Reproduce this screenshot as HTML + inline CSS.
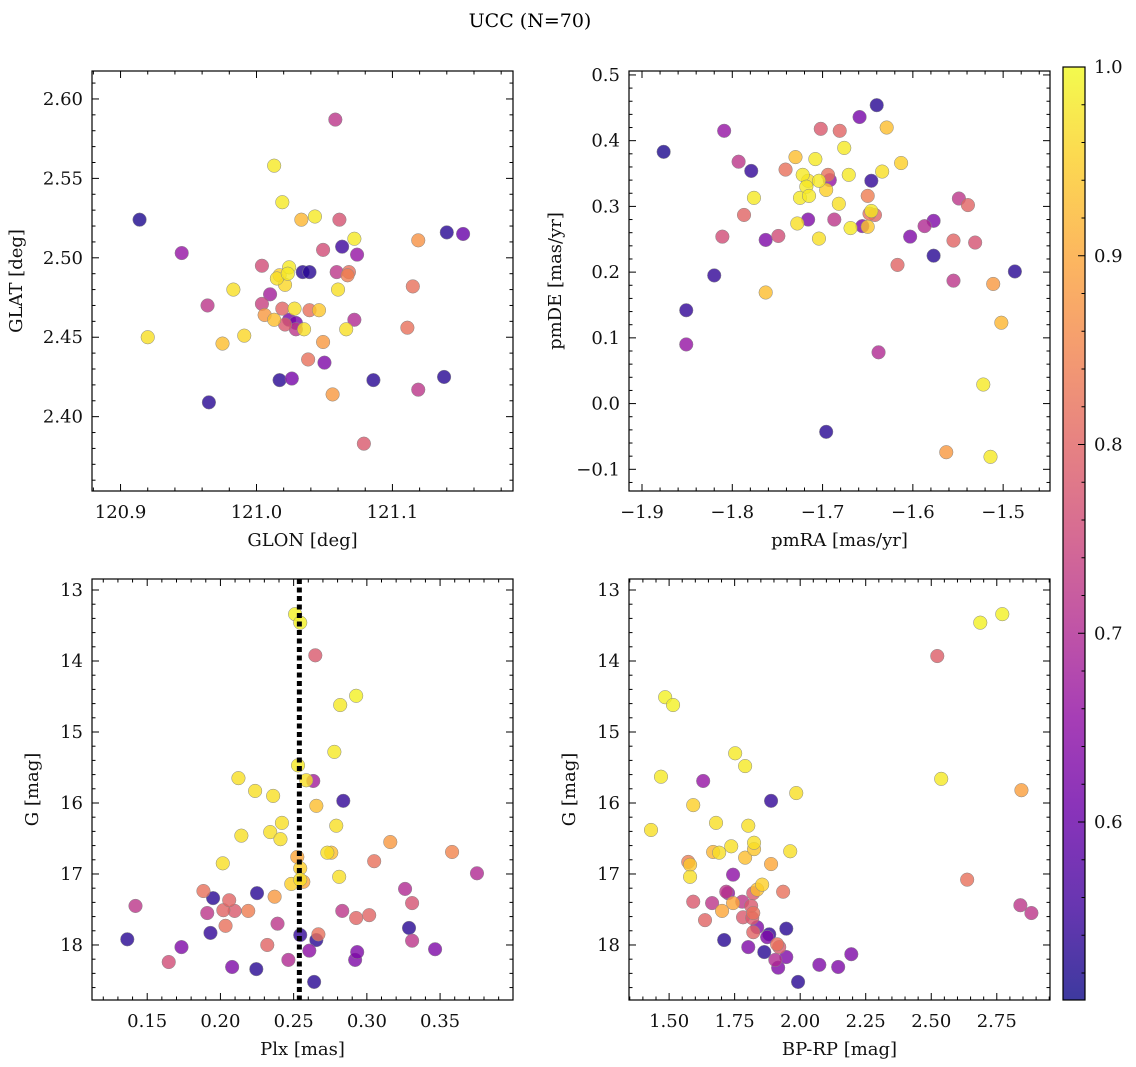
<!DOCTYPE html>
<html><head><meta charset="utf-8"><style>
body{margin:0;background:#fff}
svg{display:block;font-family:"DejaVu Serif","Liberation Serif",serif}
</style></head><body>
<svg id="fig" width="1136" height="1067" viewBox="0 0 1136 1067" xmlns="http://www.w3.org/2000/svg">
<defs>
<linearGradient id="cbgrad" x1="0" y1="1" x2="0" y2="0">
<stop offset="0" stop-color="#0d0887"/><stop offset="0.1" stop-color="#41049d"/><stop offset="0.2" stop-color="#6a00a8"/><stop offset="0.3" stop-color="#8f0da4"/><stop offset="0.4" stop-color="#b12a90"/><stop offset="0.5" stop-color="#cc4778"/><stop offset="0.6" stop-color="#e16462"/><stop offset="0.7" stop-color="#f2844b"/><stop offset="0.8" stop-color="#fca636"/><stop offset="0.9" stop-color="#fcce25"/><stop offset="1" stop-color="#f0f921"/>
</linearGradient>
</defs>
<text x="530" y="27" font-size="19" text-anchor="middle">UCC (N=70)</text>
</svg>
<script>
// ---- data: top-left (GLON/GLAT) ----
const glon=[120.914,120.945,120.964,120.920,120.965,120.983,120.975,120.991,121.004,121.004,121.010,121.006,121.013,121.019,121.015,121.017,121.024,121.023,121.021,121.013,121.019,121.024,121.021,121.028,121.029,121.035,121.017,121.026,121.034,121.039,121.033,121.043,121.039,121.046,121.038,121.050,121.049,121.049,121.056,121.058,121.061,121.063,121.059,121.060,121.068,121.067,121.066,121.072,121.074,121.072,121.079,121.086,121.111,121.115,121.119,121.119,121.138,121.140,121.152,121.029];
const glat=[2.524,2.503,2.470,2.450,2.409,2.480,2.446,2.451,2.495,2.471,2.477,2.464,2.558,2.535,2.487,2.489,2.494,2.490,2.483,2.461,2.468,2.461,2.458,2.468,2.455,2.455,2.423,2.424,2.491,2.491,2.524,2.526,2.467,2.467,2.436,2.434,2.505,2.447,2.414,2.587,2.524,2.507,2.491,2.480,2.491,2.489,2.455,2.512,2.502,2.461,2.383,2.423,2.456,2.482,2.511,2.417,2.425,2.516,2.515,2.459];
const probTL=[.52,.66,.72,.97,.53,.97,.93,.96,.76,.74,.68,.88,.98,.98,.97,.95,.98,.98,.96,.93,.80,.62,.78,.97,.72,.97,.53,.62,.53,.53,.92,.98,.82,.94,.82,.63,.76,.88,.88,.72,.77,.55,.72,.97,.82,.84,.97,.98,.66,.70,.78,.53,.82,.82,.87,.72,.53,.53,.60,.62];
// ---- data: top-right (pmRA/pmDE) ----
const pmra=[-1.876,-1.851,-1.851,-1.820,-1.809,-1.811,-1.793,-1.787,-1.779,-1.763,-1.749,-1.776,-1.763,-1.741,-1.730,-1.728,-1.725,-1.722,-1.718,-1.715,-1.716,-1.716,-1.708,-1.704,-1.704,-1.702,-1.696,-1.694,-1.692,-1.687,-1.696,-1.682,-1.681,-1.676,-1.671,-1.669,-1.656,-1.659,-1.650,-1.650,-1.648,-1.646,-1.642,-1.640,-1.646,-1.638,-1.634,-1.629,-1.617,-1.613,-1.603,-1.587,-1.577,-1.577,-1.563,-1.555,-1.555,-1.549,-1.539,-1.531,-1.522,-1.514,-1.511,-1.502,-1.487];
const pmde=[0.383,0.142,0.090,0.195,0.415,0.254,0.368,0.287,0.354,0.249,0.255,0.313,0.169,0.356,0.375,0.274,0.313,0.348,0.330,0.316,0.280,0.339,0.372,0.339,0.251,0.418,0.325,0.348,0.340,0.280,-0.043,0.304,0.415,0.389,0.348,0.267,0.270,0.436,0.316,0.269,0.289,0.293,0.287,0.454,0.339,0.078,0.353,0.420,0.211,0.366,0.254,0.270,0.278,0.225,-0.074,0.248,0.187,0.312,0.302,0.245,0.029,-0.081,0.182,0.123,0.201];
const probTR=[.52,.54,.66,.54,.66,.76,.72,.80,.54,.63,.76,.98,.93,.82,.93,.97,.98,.98,.98,.98,.63,.97,.98,.98,.97,.78,.95,.82,.66,.72,.53,.97,.80,.98,.98,.98,.63,.62,.84,.94,.82,.98,.80,.53,.54,.70,.97,.93,.80,.95,.63,.70,.63,.53,.88,.80,.72,.72,.80,.77,.98,.98,.88,.92,.53];
// ---- data: bottom-left (Plx/G) ----
const plx=[0.1364,0.142,0.1647,0.1734,0.1884,0.191,0.1932,0.195,0.2016,0.202,0.2035,0.206,0.208,0.2097,0.2123,0.2143,0.219,0.2237,0.2245,0.225,0.232,0.236,0.234,0.237,0.239,0.241,0.242,0.2464,0.2484,0.251,0.2545,0.253,0.2525,0.2545,0.2545,0.2566,0.2545,0.2586,0.2607,0.2634,0.2648,0.2655,0.264,0.2655,0.2669,0.273,0.2757,0.2778,0.2791,0.2818,0.2811,0.2832,0.2839,0.2920,0.2927,0.2934,0.2927,0.3016,0.305,0.316,0.3261,0.3288,0.3309,0.3309,0.3466,0.3582,0.3752];
const gmagL=[17.92,17.45,18.24,18.03,17.24,17.55,17.83,17.34,16.85,17.51,17.73,17.37,18.31,17.52,15.65,16.46,17.52,15.83,18.34,17.27,18.0,15.90,16.41,17.32,17.70,16.51,16.28,18.21,17.14,13.34,13.46,15.47,16.76,16.92,17.08,17.11,17.86,15.68,18.08,15.69,13.92,16.04,18.52,17.93,17.85,16.70,16.70,15.28,16.32,14.62,17.04,17.52,15.97,18.21,14.49,18.10,17.62,17.58,16.82,16.55,17.21,17.76,17.41,17.94,18.06,16.69,16.99];
const probBL=[.53,.72,.76,.63,.82,.72,.54,.53,.97,.80,.82,.80,.63,.78,.97,.97,.84,.97,.53,.53,.80,.97,.97,.88,.72,.97,.97,.70,.95,.99,.99,.98,.90,.95,.97,.90,.54,.97,.65,.68,.78,.93,.53,.53,.82,.97,.93,.98,.97,.98,.97,.72,.54,.63,.99,.63,.80,.80,.82,.88,.70,.53,.77,.72,.63,.85,.70];
const plxMedian=[0.2539];
// ---- data: bottom-right (BP-RP/G) ----
const bprp=[1.431,1.469,1.485,1.515,1.573,1.580,1.580,1.592,1.592,1.630,1.637,1.664,1.668,1.679,1.691,1.702,1.718,1.710,1.725,1.737,1.744,1.752,1.744,1.779,1.790,1.782,1.790,1.802,1.802,1.813,1.817,1.821,1.821,1.824,1.824,1.821,1.836,1.836,1.855,1.863,1.874,1.882,1.889,1.889,1.905,1.912,1.920,1.916,1.935,1.947,1.947,1.962,1.985,1.992,2.073,2.145,2.195,2.523,2.538,2.637,2.687,2.771,2.840,2.844,2.882];
const gmagR=[16.38,15.63,14.51,14.62,16.83,16.87,17.04,16.03,17.39,15.69,17.65,17.41,16.69,16.28,16.70,17.52,17.25,17.93,17.27,16.61,17.41,15.30,17.01,17.39,16.77,17.61,15.48,18.03,16.32,17.45,17.62,17.82,17.55,16.56,16.65,17.27,17.75,17.22,17.15,18.10,17.89,17.85,15.97,16.86,18.21,17.99,18.03,18.32,17.25,17.77,18.17,16.68,15.86,18.52,18.28,18.31,18.13,13.93,15.66,17.08,13.46,13.34,17.44,15.82,17.55];
const probBR=[.97,.98,.99,.99,.84,.94,.97,.95,.78,.66,.80,.72,.92,.97,.97,.90,.72,.53,.65,.97,.90,.98,.65,.72,.93,.78,.98,.63,.97,.78,.78,.80,.82,.97,.94,.78,.63,.93,.95,.53,.63,.54,.54,.90,.70,.82,.78,.63,.82,.53,.63,.97,.97,.53,.63,.63,.63,.79,.98,.82,.99,.99,.72,.89,.72];
// ---- colorbar ticks ----
const cbTicks=[0.6,0.7,0.8,0.9,1.0];

const NS='http://www.w3.org/2000/svg';
const svg=document.getElementById('fig');
const PMIN=0.5057,PMAX=1.0;
const FS=18;
const stops=['#0d0887','#41049d','#6a00a8','#8f0da4','#b12a90','#cc4778','#e16462','#f2844b','#fca636','#fcce25','#f0f921'];
function hex(h){return [1,3,5].map(i=>parseInt(h.substr(i,2),16));}
function plasma(p){let t=(p-PMIN)/(PMAX-PMIN);t=Math.max(0,Math.min(1,t))*10;const i=Math.min(9,Math.floor(t)),f=t-i;const a=hex(stops[i]),b=hex(stops[i+1]);return 'rgb('+a.map((v,k)=>Math.round(v+(b[k]-v)*f)).join(',')+')';}
function mk(tag,attrs,parent){const e=document.createElementNS(NS,tag);for(const k in attrs)e.setAttribute(k,attrs[k]);(parent||svg).appendChild(e);return e;}
function fmt(v,d){let s=v.toFixed(d);if(v<0)s='\u2212'+s.slice(1);return s;}

function panel(o){
  const g=mk('g',{});
  
  
  const X=v=>o.x0+(v-o.xmin)/(o.xmax-o.xmin)*(o.x1-o.x0);
  const Y=o.invert?v=>o.y0+(v-o.ymin)/(o.ymax-o.ymin)*(o.y1-o.y0):v=>o.y1-(v-o.ymin)/(o.ymax-o.ymin)*(o.y1-o.y0);
  const idx=o.xs.map((_,i)=>i).sort((a,b)=>o.ps[a]-o.ps[b]);
  const pg=mk('g',{},g);
  
  
  idx.forEach(i=>{
    const c=mk('circle',{cx:X(o.xs[i]),cy:Y(o.ys[i]),r:6.8,fill:plasma(o.ps[i]),'fill-opacity':0.8,stroke:'#888','stroke-width':0.5},pg);
    
    
  });
  if(o.vline!==undefined){
    const l=mk('line',{x1:X(o.vline),x2:X(o.vline),y1:o.y0,y2:o.y1,stroke:'#000','stroke-width':5,'stroke-dasharray':'5 3.5'},g);
    
    
  }
  const tg=mk('g',{stroke:'#000','stroke-width':1},g);
  const eps=1e-9;
  for(let v=Math.ceil(o.xmin/o.xminor-eps)*o.xminor;v<=o.xmax+eps;v+=o.xminor){
    const maj=Math.abs(v/o.xmajor-Math.round(v/o.xmajor))<1e-6;const L=maj?7:3.5;const x=X(v);
    mk('line',{x1:x,x2:x,y1:o.y1,y2:o.y1-L},tg);mk('line',{x1:x,x2:x,y1:o.y0,y2:o.y0+L},tg);
    if(maj){const t=mk('text',{x:x,y:o.y1+27,'font-size':FS,'text-anchor':'middle',stroke:'none',fill:'#111'},g);t.textContent=fmt(v,o.xdec);
      
      }
  }
  for(let v=Math.ceil(o.ymin/o.yminor-eps)*o.yminor;v<=o.ymax+eps;v+=o.yminor){
    const maj=Math.abs(v/o.ymajor-Math.round(v/o.ymajor))<1e-6;const L=maj?7:3.5;const y=Y(v);
    mk('line',{x1:o.x0,x2:o.x0+L,y1:y,y2:y},tg);mk('line',{x1:o.x1,x2:o.x1-L,y1:y,y2:y},tg);
    if(maj){const t=mk('text',{x:o.x0-9,y:y+6,'font-size':FS,'text-anchor':'end',stroke:'none',fill:'#111'},g);t.textContent=fmt(Math.abs(v)<1e-9?0:v,o.ydec);
      
      }
  }
  const fr=mk('rect',{x:o.x0,y:o.y0,width:o.x1-o.x0,height:o.y1-o.y0,fill:'none',stroke:'#000','stroke-width':1.2},g);
  
  
  const xl=mk('text',{x:(o.x0+o.x1)/2,y:o.y1+55,'font-size':FS,'text-anchor':'middle',fill:'#111'},g);xl.textContent=o.xlabel;
  
  
  const cy=(o.y0+o.y1)/2,cx=o.x0-o.ylabOff;
  const yl=mk('text',{x:cx,y:cy,'font-size':FS,'text-anchor':'middle',fill:'#111',transform:`rotate(-90 ${cx} ${cy})`},g);yl.textContent=o.ylabel;
  
  
}

panel({name:'glon-glat-panel',x0:92,x1:513,y0:71,y1:491,xmin:120.879,xmax:121.1887,ymin:2.3532,ymax:2.6176,xmajor:0.1,xminor:0.02,ymajor:0.05,yminor:0.01,xdec:1,ydec:2,xs:glon,ys:glat,ps:probTL,xlabel:'GLON [deg]',ylabel:'GLAT [deg]',ylabOff:70});
panel({name:'pm-panel',x0:629,x1:1050,y0:71,y1:491,xmin:-1.9144,xmax:-1.4481,ymin:-0.133,ymax:0.506,xmajor:0.1,xminor:0.02,ymajor:0.1,yminor:0.02,xdec:1,ydec:1,xs:pmra,ys:pmde,ps:probTR,xlabel:'pmRA [mas/yr]',ylabel:'pmDE [mas/yr]',ylabOff:68});
panel({name:'plx-g-panel',x0:92,x1:513,y0:579,y1:1000,xmin:0.1123,xmax:0.3998,ymin:12.845,ymax:18.775,invert:true,xmajor:0.05,xminor:0.01,ymajor:1,yminor:0.2,xdec:2,ydec:0,xs:plx,ys:gmagL,ps:probBL,vline:plxMedian[0],xlabel:'Plx [mas]',ylabel:'G [mag]',ylabOff:54});
panel({name:'cmd-panel',x0:629,x1:1050,y0:579,y1:1000,xmin:1.347,xmax:2.953,ymin:12.845,ymax:18.775,invert:true,xmajor:0.25,xminor:0.05,ymajor:1,yminor:0.2,xdec:2,ydec:0,xs:bprp,ys:gmagR,ps:probBR,xlabel:'BP-RP [mag]',ylabel:'G [mag]',ylabOff:54});

const cb=mk('g',{});


const CX0=1063,CX1=1085,CY0=67,CY1=1000;
mk('rect',{x:CX0,y:CY0,width:CX1-CX0,height:CY1-CY0,fill:'url(#cbgrad)','fill-opacity':0.8},cb);
const CY=v=>CY1-(v-PMIN)/(PMAX-PMIN)*(CY1-CY0);
for(let v=0.52;v<=1.0001;v+=0.02){const y=CY(v);const maj=Math.abs(v*10-Math.round(v*10))<1e-6;
  mk('line',{x1:CX1,x2:CX1-(maj?7:3.5),y1:y,y2:y,stroke:'#000','stroke-width':1},cb);}
cbTicks.forEach(v=>{const t=mk('text',{x:CX1+9,y:CY(v)+6,'font-size':FS,fill:'#111'},cb);t.textContent=v.toFixed(1);
  
  });
mk('rect',{x:CX0,y:CY0,width:CX1-CX0,height:CY1-CY0,fill:'none',stroke:'#000','stroke-width':1.2},cb);
</script>
</body></html>
